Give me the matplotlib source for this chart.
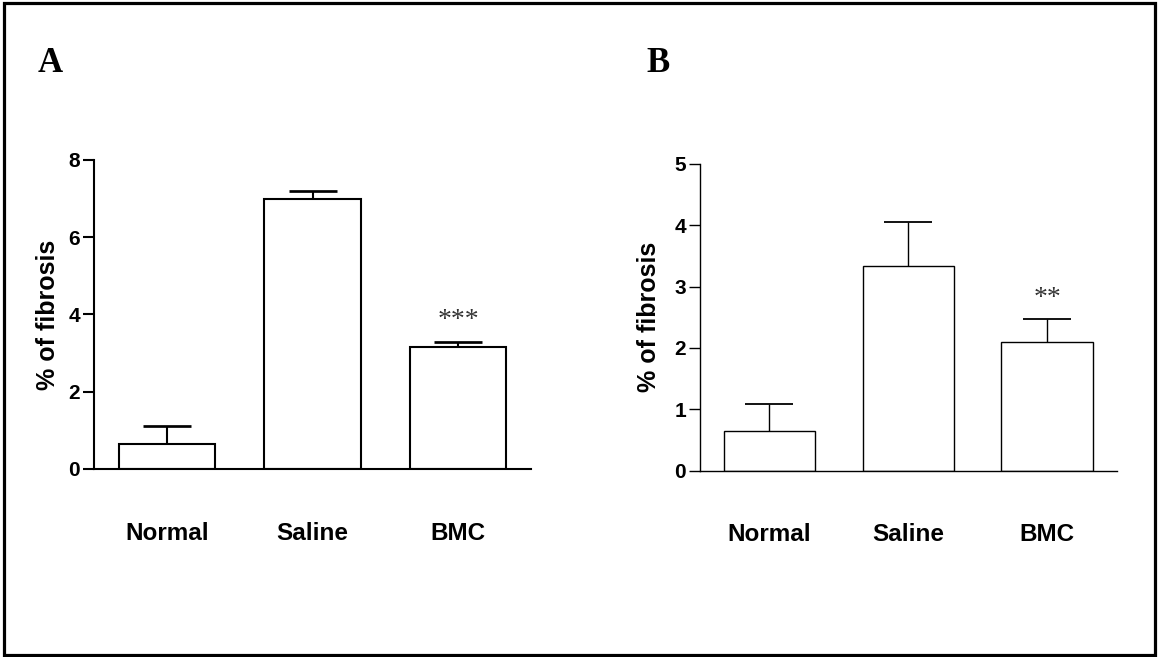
#Bar charts of % fibrosis for Normal, Saline and BMC groups (panels A and B)

import numpy as np
import matplotlib.pyplot as plt
from matplotlib.patches import Rectangle

plt.rcParams['font.family'] = ['Liberation Sans', 'DejaVu Sans']

groups = ["Normal", "Saline", "BMC"]

#panel A values (mean and upper error)
a_means = [0.64, 6.98, 3.16]
a_err = [0.46, 0.22, 0.14]
a_ticks = [0, 2, 4, 6, 8]
a_stars = ["", "", "***"]

#panel B values
b_means = [0.65, 3.34, 2.09]
b_err = [0.44, 0.71, 0.38]
b_ticks = [0, 1, 2, 3, 4, 5]
b_stars = ["", "", "**"]

fig = plt.figure(figsize=(11.59, 6.57), dpi=100)

# black frame round the whole figure
fig.patches.append(Rectangle((0.0035, 0.003), 0.993, 0.993, transform=fig.transFigure,
                             fill=False, edgecolor="black", linewidth=2.3))


def draw_panel(ax, means, err, ticks, stars, lw, label_x):
    x = np.arange(len(groups))
    ax.bar(x, means, width=0.66, color="white", edgecolor="black", linewidth=lw, zorder=2)
    eb = ax.errorbar(x, means, yerr=[np.zeros(len(err)), err], fmt="none", ecolor="black",
                     elinewidth=lw, capsize=17, capthick=lw * 1.3, zorder=1)
    # only the upper cap is wanted
    for cap in eb[1]:
        if np.allclose(cap.get_ydata(), means):
            cap.set_visible(False)
    for i in range(len(groups)):
        if stars[i]:
            ax.annotate(stars[i], (x[i], means[i] + err[i]), xytext=(0, 15),
                        textcoords="offset points", ha="center", va="center",
                        fontsize=20, family="Liberation Serif", color="#333333")
    ax.set_xlim(-0.5, 2.5)
    ax.set_ylim(0, ticks[-1])
    ax.set_yticks(ticks)
    ax.set_xticks(x)
    ax.set_xticklabels(groups, fontsize=17.5, fontweight="bold")
    ax.tick_params(axis="x", length=0, pad=38)
    ax.tick_params(axis="y", length=8, width=lw, labelsize=15, pad=2)
    for t in ax.get_yticklabels():
        t.set_fontweight("bold")
    ax.spines["top"].set_visible(False)
    ax.spines["right"].set_visible(False)
    ax.spines["left"].set_linewidth(lw)
    ax.spines["bottom"].set_linewidth(lw)
    ax.set_ylabel("% of fibrosis", fontsize=18, fontweight="bold")
    ax.yaxis.set_label_coords(label_x, 0.5)
    ax.yaxis.label.set_va("center")


axA = fig.add_axes([0.0811, 0.2862, 0.3771, 0.4703])
draw_panel(axA, a_means, a_err, a_ticks, a_stars, 1.5, -0.106)

axB = fig.add_axes([0.604, 0.2836, 0.3595, 0.4668])
draw_panel(axB, b_means, b_err, b_ticks, b_stars, 1.0, -0.122)

fig.text(0.0328, 0.8904, "A", fontsize=25, fontweight="bold", family="Liberation Serif", va="baseline")
fig.text(0.5574, 0.8904, "B", fontsize=25, fontweight="bold", family="Liberation Serif", va="baseline")

plt.savefig("out.png", dpi=100)
